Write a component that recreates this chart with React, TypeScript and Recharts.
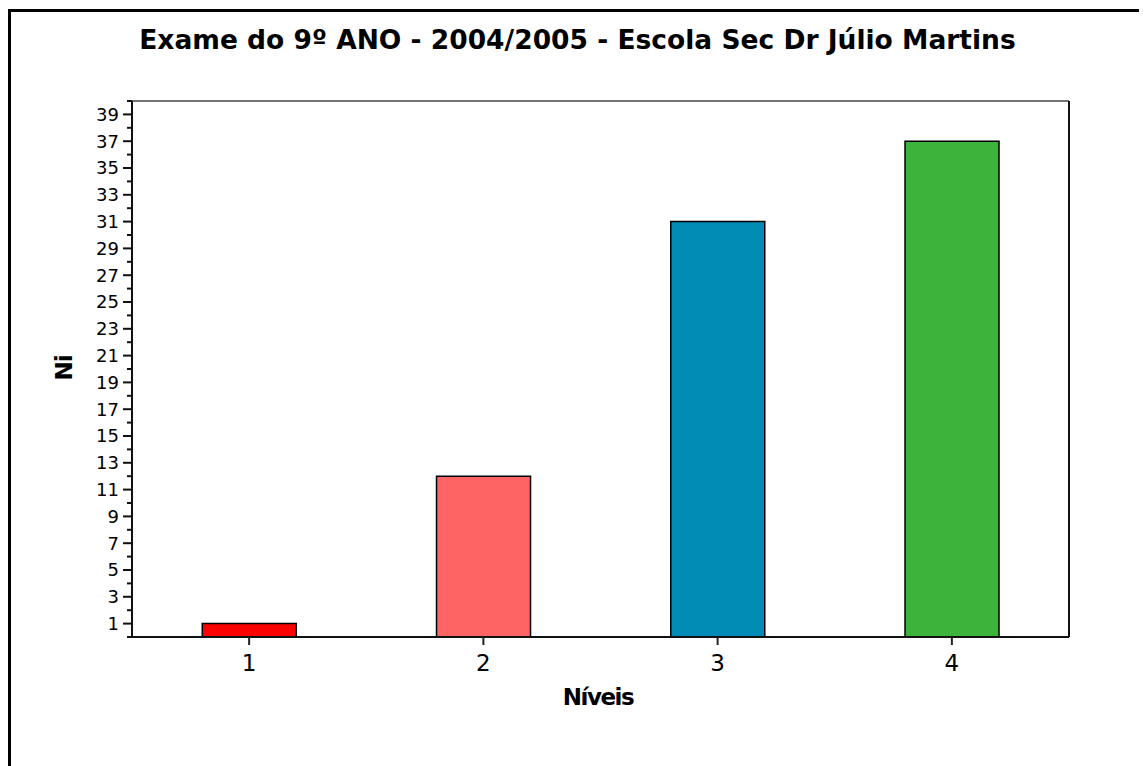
import React from "react";
import { BarChart, Bar, Cell, XAxis, YAxis, ReferenceLine } from "recharts";

const NIVEIS = ["1", "2", "3", "4"];
const NI = [1, 12, 31, 37];
const BAR_COLORS = ["#ff0000", "#ff6464", "#008cb4", "#3cb43c"];
const Y_TICKS = [
  0, 1, 2, 3, 4, 5, 6, 7, 8, 9, 10, 11, 12, 13, 14, 15, 16, 17, 18, 19, 20,
  21, 22, 23, 24, 25, 26, 27, 28, 29, 30, 31, 32, 33, 34, 35, 36, 37, 38, 39, 40,
];

const data = NIVEIS.map((n, i) => ({ nivel: n, ni: NI[i] }));

const FONT = "'DejaVu Sans', Verdana, sans-serif";
const INK = "#111";

// ticks with long marks + labels on odd values, short marks on even values
function SideTick(props: any) {
  const { x, y, payload, side } = props;
  const v = payload.value as number;
  const odd = v % 2 === 1;
  const len = odd ? 9 : 5;
  const dir = side === "left" ? -1 : 1;
  return (
    <g>
      <line x1={x} x2={x + dir * len} y1={y} y2={y} stroke={INK} strokeWidth={2} />
      {odd && (
        <text
          x={x + dir * (side === "left" ? 13 : 15)}
          y={y}
          dy="0.36em"
          textAnchor={side === "left" ? "end" : "start"}
          fontSize={18}
          fontFamily={FONT}
          fill="#000"
        >
          {v}
        </text>
      )}
    </g>
  );
}

export default function App() {
  return (
    <div style={{ position: "relative", width: 1139, height: 758, background: "#fff", fontFamily: FONT }}>
      <div
        style={{
          position: "absolute", left: 0, top: 1, width: 1139, height: 757,
          borderLeft: "3px solid #000", borderTop: "3px solid #000", boxSizing: "border-box",
        }}
      />
      <div
        style={{
          position: "absolute", left: 0, top: 16, width: 1139, textAlign: "center",
          fontSize: 26.5, fontWeight: "bold", color: "#000",
        }}
      >
        Exame do 9º ANO - 2004/2005 - Escola Sec Dr Júlio Martins
      </div>
      <BarChart
        width={1139}
        height={758}
        data={data}
        margin={{ top: 93, right: 18, bottom: 79, left: 64 }}
        barCategoryGap="30%"
      >
        <XAxis
          dataKey="nivel"
          height={50}
          axisLine={{ stroke: INK, strokeWidth: 2 }}
          tickLine={{ stroke: "#222", strokeWidth: 2 }}
          tickSize={8}
          tickMargin={10}
          tick={{ fontSize: 23, fill: "#000", fontFamily: FONT }}
        />
        <YAxis
          yAxisId="left"
          width={60}
          domain={[0, 40]}
          ticks={Y_TICKS}
          interval={0}
          tickSize={0}
          tickMargin={0}
          tickLine={false}
          axisLine={{ stroke: INK, strokeWidth: 2 }}
          tick={<SideTick side="left" />}
        />
        <YAxis
          yAxisId="right"
          orientation="right"
          width={60}
          domain={[0, 40]}
          ticks={Y_TICKS}
          interval={0}
          tickSize={0}
          tickMargin={0}
          tickLine={false}
          axisLine={{ stroke: INK, strokeWidth: 2 }}
          tick={<SideTick side="right" />}
        />
        <ReferenceLine yAxisId="left" y={40} stroke="#444" strokeWidth={1.3} />
        <Bar yAxisId="left" dataKey="ni" stroke="#000" strokeWidth={1.5} isAnimationActive={false}>
          {data.map((d, i) => (
            <Cell key={d.nivel} fill={BAR_COLORS[i]} />
          ))}
        </Bar>
      </BarChart>
      <div
        style={{
          position: "absolute", left: 41, top: 345, transform: "rotate(-90deg)",
          transformOrigin: "center", fontSize: 23, fontWeight: "bold", width: 30,
          textAlign: "center", lineHeight: "30px", letterSpacing: -1,
        }}
      >
        Ni
      </div>
      <div
        style={{
          position: "absolute", left: 490, top: 676, width: 200, textAlign: "center",
          fontSize: 23, fontWeight: "bold", letterSpacing: -1.5,
        }}
      >
        Níveis
      </div>
    </div>
  );
}
